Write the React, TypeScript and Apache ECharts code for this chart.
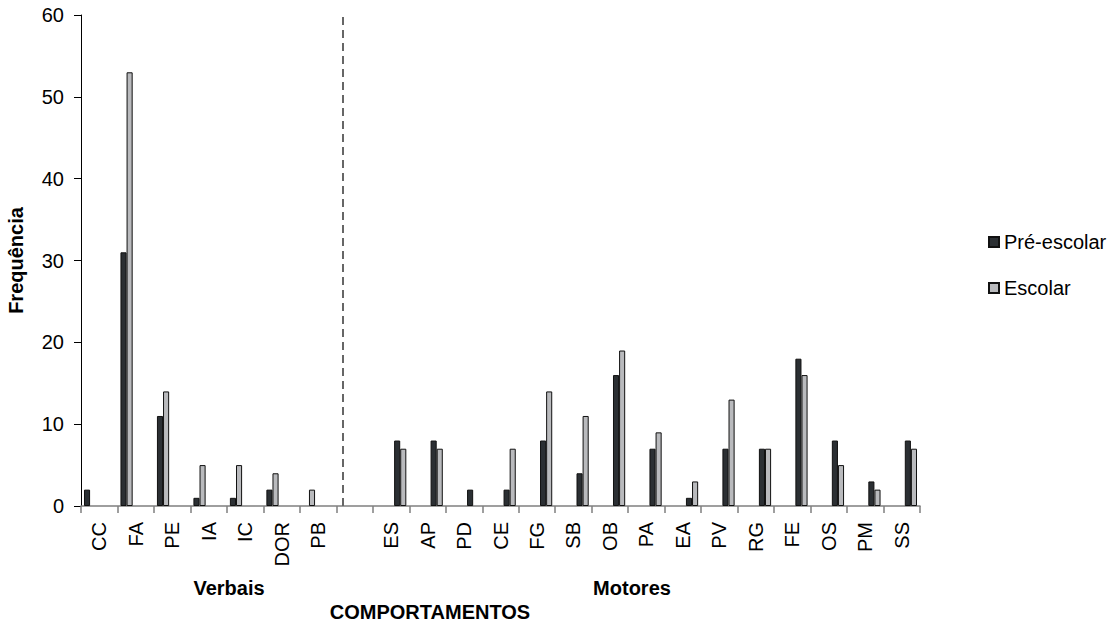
import React, { useEffect, useRef } from "react";
import * as echarts from "echarts";

const categories = ["CC", "FA", "PE", "IA", "IC", "DOR", "PB", "", "ES", "AP", "PD", "CE", "FG", "SB", "OB", "PA", "EA", "PV", "RG", "FE", "OS", "PM", "SS"];
// null = no bar drawn (zero frequency / spacer category)
const preEscolar = [2, 31, 11, 1, 1, 2, null, null, 8, 8, 2, 2, 8, 4, 16, 7, 1, 7, 7, 18, 8, 3, 8];
const escolar = [null, 53, 14, 5, 5, 4, 2, null, 7, 7, null, 7, 14, 11, 19, 9, 3, 13, 7, 16, 5, 2, 7];
const yTicks = { min: 0, max: 60, interval: 10 };
const dividerCategory = 7; // first 7 categories are "Verbais", after the divider "Motores"
const groupLabels = [
  { text: "Verbais", x: 229, y: 588 },
  { text: "Motores", x: 632, y: 588 },
];
const axisTitle = "COMPORTAMENTOS";

const FONT = "'Liberation Sans', Arial, sans-serif";

export default function App() {
  const ref = useRef<HTMLDivElement>(null);
  useEffect(() => {
    if (!ref.current) return;
    const chart = echarts.init(ref.current, undefined, { renderer: "svg" });
    const verbais = (arr: (number | null)[]) => arr.map((v, i) => (i < dividerCategory ? v : null));
    const motores = (arr: (number | null)[]) => arr.map((v, i) => (i > dividerCategory ? v : null));
    const spacer = categories.map(() => 0);
    const darkStyle = { color: "#2b2f33", borderColor: "#111", borderWidth: 1 };
    const lightStyle = { color: "#b9babd", borderColor: "#111", borderWidth: 1 };
    const barBase = {
      type: "bar" as const,
      barWidth: 6.1,
      barGap: "0%",
    };
    chart.setOption({
      animation: false,
      textStyle: { fontFamily: FONT },
      grid: { left: 81, right: 187, top: 15, bottom: 121, containLabel: false, outerBoundsMode: "none" },
      legend: {
        data: ["Pré-escolar", "Escolar"],
        orient: "vertical",
        left: 983,
        top: 226,
        itemWidth: 10,
        itemHeight: 10,
        itemGap: 24,
        icon: "rect",
        textStyle: { fontFamily: FONT, fontSize: 20, lineHeight: 22, color: "#000" },
      },
      xAxis: {
        type: "category",
        data: categories,
        axisLine: { lineStyle: { color: "#7f7f7f", width: 1.5 } },
        axisTick: { show: true, length: 7, lineStyle: { color: "#7f7f7f", width: 1.5 } },
        axisLabel: { rotate: 90, margin: 16, fontSize: 20, color: "#000", fontFamily: FONT, interval: 0 },
      },
      yAxis: {
        type: "value",
        min: yTicks.min,
        max: yTicks.max,
        interval: yTicks.interval,
        name: "Frequência",
        nameLocation: "middle",
        nameRotate: 90,
        nameGap: 55,
        nameMoveOverlap: false,
        nameTextStyle: { fontFamily: FONT, fontSize: 20, fontWeight: "bold", color: "#000" },
        axisLine: { show: true, lineStyle: { color: "#000", width: 1 } },
        axisTick: { show: true, length: 7, lineStyle: { color: "#000" } },
        axisLabel: { margin: 17, fontSize: 20, color: "#000", fontFamily: FONT },
        splitLine: { show: false },
      },
      series: [
        {
          ...barBase,
          name: "Pré-escolar",
          data: verbais(preEscolar),
          itemStyle: darkStyle,
          markLine: {
            silent: true,
            symbol: "none",
            label: { show: false },
            lineStyle: { color: "#666", type: [8, 5], width: 2 },
            data: [{ xAxis: dividerCategory }],
          },
        },
        { ...barBase, name: "Escolar", data: verbais(escolar), itemStyle: lightStyle },
        {
          ...barBase,
          name: "gap",
          data: spacer,
          silent: true,
          itemStyle: { color: "rgba(0,0,0,0)", borderWidth: 0 },
        },
        { ...barBase, name: "Pré-escolar", data: motores(preEscolar), itemStyle: darkStyle },
        { ...barBase, name: "Escolar", data: motores(escolar), itemStyle: lightStyle },
      ],
      graphic: [
        ...groupLabels.map((g) => ({
          type: "text",
          x: g.x,
          y: g.y,
          style: { text: g.text, font: `bold 20px ${FONT}`, fill: "#000", textAlign: "center", textVerticalAlign: "middle" },
        })),
        {
          type: "text",
          x: 430,
          y: 612,
          style: { text: axisTitle, font: `bold 20px ${FONT}`, fill: "#000", textAlign: "center", textVerticalAlign: "middle" },
        },
      ],
    });
    return () => chart.dispose();
  }, []);
  return <div ref={ref} style={{ width: 1107, height: 627, position: "absolute", left: 0, top: 0 }} />;
}
